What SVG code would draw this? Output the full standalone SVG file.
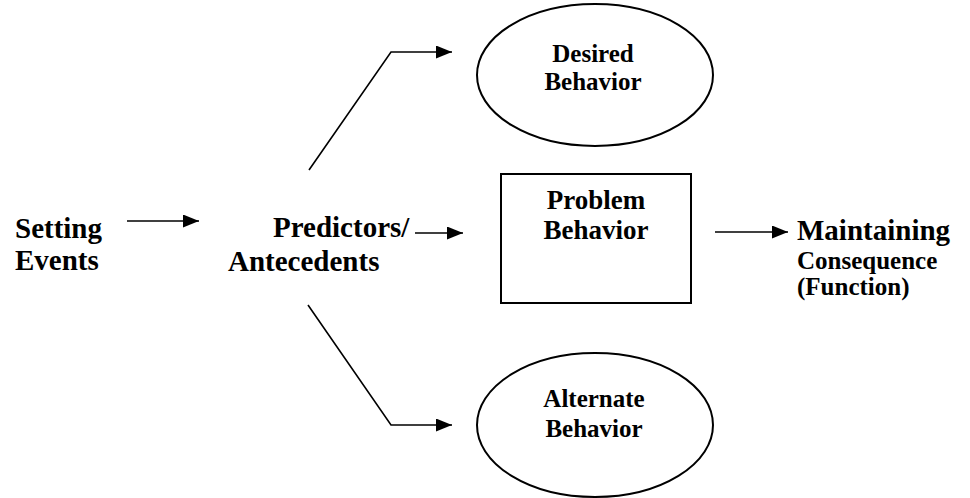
<svg xmlns="http://www.w3.org/2000/svg" width="970" height="498" viewBox="0 0 970 498">
<style>
  text { font-family: "Liberation Serif", "Times New Roman", serif; font-weight: bold; fill: #000; }
  .big { font-size: 29px; }
  .mid { font-size: 27px; }
  .sm { font-size: 25px; }
  .shape { fill: #fff; stroke: #000; stroke-width: 2; }
  .conn { fill: none; stroke: #000; stroke-width: 1.6; }
</style>
<defs>
  <marker id="arrow" markerUnits="userSpaceOnUse" markerWidth="18" markerHeight="14" refX="16" refY="6.5" orient="auto">
    <path d="M0,0 L16,6.5 L0,13 Z" fill="#000"/>
  </marker>
</defs>
<rect width="970" height="498" fill="#fff"/>

<g id="connectors">
  <path class="conn" d="M127,221 L199,221" marker-end="url(#arrow)"/>
  <path class="conn" d="M415,233 L463,233" marker-end="url(#arrow)"/>
  <path class="conn" d="M309,170 L391,52 L452,52" marker-end="url(#arrow)"/>
  <path class="conn" d="M308,305 L391,425 L452,425" marker-end="url(#arrow)"/>
  <path class="conn" d="M715,232 L788,232" marker-end="url(#arrow)"/>
</g>

<g id="setting-events">
  <text class="big" x="15" y="238">Setting</text>
  <text class="big" x="15" y="270">Events</text>
</g>

<g id="predictors">
  <text class="big" x="273" y="237">Predictors/</text>
  <text class="big" x="228" y="271">Antecedents</text>
</g>

<g id="desired-behavior">
  <ellipse class="shape" cx="595" cy="75" rx="118" ry="71"/>
  <text class="sm" x="593" y="62" text-anchor="middle">Desired</text>
  <text class="sm" x="593" y="90" text-anchor="middle">Behavior</text>
</g>

<g id="problem-behavior">
  <rect class="shape" x="501" y="174" width="190" height="129"/>
  <text class="mid" x="596" y="209" text-anchor="middle">Problem</text>
  <text class="mid" x="596" y="239" text-anchor="middle">Behavior</text>
</g>

<g id="alternate-behavior">
  <ellipse class="shape" cx="595" cy="425" rx="118" ry="72"/>
  <text class="sm" x="594" y="407" text-anchor="middle">Alternate</text>
  <text class="sm" x="594" y="437" text-anchor="middle">Behavior</text>
</g>

<g id="maintaining-consequence">
  <text class="big" x="797" y="240">Maintaining</text>
  <text class="sm" x="797" y="269">Consequence</text>
  <text class="sm" x="797" y="295">(Function)</text>
</g>
</svg>
